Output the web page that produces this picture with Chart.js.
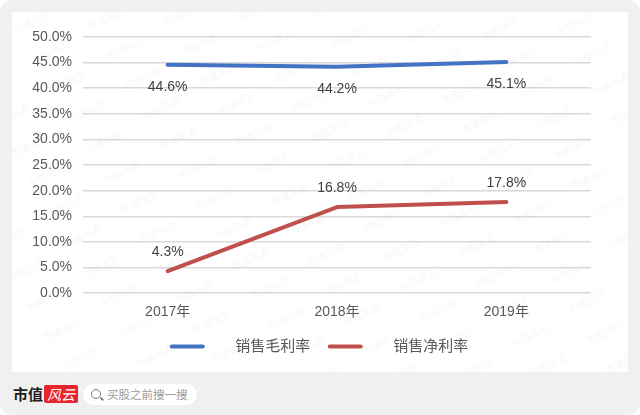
<!DOCTYPE html>
<html>
<head>
<meta charset="utf-8">
<script src="https://cdn.jsdelivr.net/npm/chart.js@4/dist/chart.umd.min.js"></script>
<style>
    html, body { margin: 0; padding: 0; background: #fff; }
    #frame {
        position: relative; width: 640px; height: 415px;
        background: #f0f0f0; border-radius: 12px; overflow: hidden;
        font-family: "Noto Sans CJK SC", sans-serif;
    }
    #panel {
        position: absolute; left: 12px; top: 12px; width: 616px; height: 360px;
        background: #fff;
    }
    #brand {
        position: absolute; left: 13px; top: 384px; height: 20px;
        font-size: 15px; font-weight: bold; color: #1e1e1e; line-height: 20px;
    }
    #brand .red {
        display: inline-block; margin-left: 1px; padding: 0 3px; height: 18px; line-height: 18px;
        background: #e8242c; color: #fff; font-style: italic; font-weight: normal;
        font-size: 14px; border-radius: 2px; vertical-align: top; margin-top: 1px;
    }
    #search {
        position: absolute; left: 83px; top: 384px; width: 114px; height: 21px;
        background: #fff; border-radius: 11px;
        font-size: 11.5px; color: #9a9a9a; line-height: 21px;
    }
    #search .icon {
        position: absolute; left: 8px; top: 5px; width: 8px; height: 8px;
        border: 1.6px solid #7a7a7a; border-radius: 50%;
    }
    #search .icon::after {
        content: ""; position: absolute; left: 8px; top: 8px; width: 4px; height: 1.6px;
        background: #7a7a7a; transform: rotate(45deg);
    }
    #search span { position: absolute; left: 24px; }
</style>
</head>
<body>
<div id="frame">
    <div id="panel"><canvas id="chart" width="616" height="360"></canvas></div>
    <div id="brand">市值<span class="red">风云</span></div>
    <div id="search"><i class="icon"></i><span>买股之前搜一搜</span></div>
</div>
<script>
const years = ["2017年", "2018年", "2019年"];
const grossMargin = [44.6, 44.2, 45.1];
const netMargin = [4.3, 16.8, 17.8];
const seriesNames = ["销售毛利率", "销售净利率"];
const seriesColors = ["#4472c4", "#c0504d"];

const numFont = "'Liberation Sans', Arial, 'Noto Sans CJK SC', sans-serif";

// faint site watermark behind the lines
const watermark = {
    id: 'watermark',
    beforeDatasetsDraw(chart) {
        const ctx = chart.ctx;
        ctx.save();
        ctx.font = "10px 'Noto Sans CJK SC'";
        ctx.fillStyle = 'rgba(0,0,0,0.045)';
        ctx.textAlign = 'center';
        ctx.textBaseline = 'middle';
        for (let r = -6; r < 16; r++) {
            for (let c = -2; c < 10; c++) {
                const x = c * 75 + r * 18 + 20;
                const y = r * 30 - c * 4 + 10;
                if (x < -30 || x > 650 || y < -20 || y > 380) continue;
                ctx.save();
                ctx.translate(x, y);
                ctx.rotate(-0.45);
                ctx.fillText('市值风云', 0, 0);
                ctx.restore();
            }
        }
        ctx.restore();
    }
};

// value labels: below the top series, above the bottom one
const valueLabels = {
    id: 'valueLabels',
    afterDatasetsDraw(chart) {
        const ctx = chart.ctx;
        ctx.save();
        ctx.font = "14px " + numFont;
        ctx.fillStyle = '#404040';
        ctx.textAlign = 'center';
        ctx.textBaseline = 'middle';
        chart.data.datasets.forEach((ds, i) => {
            const offset = i === 0 ? 22 : -19;
            chart.getDatasetMeta(i).data.forEach((pt, j) => {
                ctx.fillText(ds.data[j].toFixed(1) + '%', pt.x, pt.y + offset);
            });
        });
        ctx.restore();
    }
};

// legend is centred on the whole panel, not only the padded area
const centerLegend = {
    id: 'centerLegend',
    afterLayout(chart) {
        chart.legend.left = 0;
        chart.legend.right = chart.width;
    }
};

const config = {
    type: 'line',
    data: {
        labels: years,
        datasets: [
            { label: seriesNames[0], data: grossMargin },
            { label: seriesNames[1], data: netMargin }
        ]
    },
    options: {
        responsive: false,
        animation: false,
        devicePixelRatio: 1,
        layout: { padding: { left: 0, right: 37, top: 25, bottom: 8 } },
        elements: {
            line: { borderWidth: 4, tension: 0, borderCapStyle: 'round', borderJoinStyle: 'round' },
            point: { radius: 0, hoverRadius: 0 }
        },
        plugins: {
            tooltip: { enabled: false },
            legend: {
                display: true,
                position: 'bottom',
                labels: {
                    usePointStyle: true,
                    pointStyleWidth: 31,
                    boxHeight: 4,
                    padding: 7,
                    color: '#595959',
                    font: { size: 15, family: numFont },
                    generateLabels: (chart) => chart.data.datasets.map((ds, i) => ({
                        text: '      ' + ds.label + (i === 0 ? '   ' : ''),
                        fillStyle: seriesColors[i],
                        strokeStyle: seriesColors[i],
                        lineWidth: 4,
                        lineCap: 'round',
                        pointStyle: 'line',
                        fontColor: '#595959',
                        datasetIndex: i
                    }))
                }
            }
        },
        scales: {
            x: {
                offset: true,
                grid: { display: false, drawTicks: false },
                border: { display: false },
                ticks: { color: '#595959', padding: 11, font: { size: 14, family: numFont } }
            },
            y: {
                min: 0,
                max: 50,
                afterFit: (scale) => { scale.width = 71; },
                grid: { color: '#d9d9d9', lineWidth: 1.5, drawTicks: false },
                border: { display: false },
                ticks: {
                    stepSize: 5,
                    padding: 11,
                    color: '#595959',
                    font: { size: 14, family: numFont },
                    callback: (v) => v.toFixed(1) + '%'
                }
            }
        }
    },
    plugins: [watermark, valueLabels, centerLegend]
};

config.data.datasets.forEach((ds, i) => {
    ds.borderColor = seriesColors[i];
    ds.backgroundColor = seriesColors[i];
});

new Chart(document.getElementById('chart'), config);
</script>
</body>
</html>
